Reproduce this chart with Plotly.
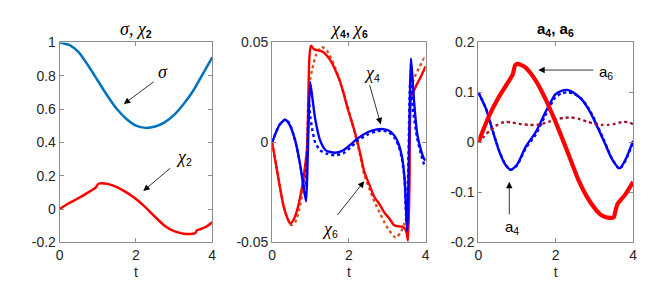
import plotly.graph_objects as go

# ---------------- data ----------------
# Panel 1: sigma and chi_2
sigma_t = [0, 0.25, 0.5, 0.75, 1.0, 1.25, 1.5, 1.75, 2.0, 2.25, 2.5, 2.75, 3.0, 3.25, 3.5, 3.75, 4.0]
sigma_v = [1.0, 0.985, 0.94, 0.86, 0.77, 0.68, 0.60, 0.54, 0.50, 0.487, 0.495, 0.52, 0.565, 0.63, 0.71, 0.81, 0.91]

chi2_t = [0, 0.25, 0.5, 0.75, 0.9, 0.95, 1.0, 1.05, 1.25, 1.5, 1.75, 2.0, 2.25, 2.5, 2.75, 3.0, 3.25,
          3.5, 3.55, 3.6, 3.7, 3.85, 4.0]
chi2_v = [0, 0.036, 0.066, 0.1, 0.122, 0.13, 0.148, 0.154, 0.151, 0.132, 0.1, 0.06, 0.01, -0.047, -0.1,
          -0.133, -0.148, -0.148, -0.146, -0.128, -0.12, -0.105, -0.079]

# Panel 2: chi_4 (solid / dotted) and chi_6 (solid / dotted)
chi4_t = [0, 0.1, 0.2, 0.34, 0.45, 0.6, 0.72, 0.8, 0.885, 0.93, 0.99, 1.05, 1.12, 1.25, 1.4, 1.63, 1.85,
          2.05, 2.23, 2.5, 2.7, 2.9, 3.05, 3.2, 3.3, 3.38, 3.45, 3.52, 3.57, 3.62, 3.7, 3.78, 3.88, 3.96, 4.0]
chi4_v = [0, 0.005, 0.009, 0.0113, 0.009, 0.001, -0.01, -0.02, -0.0296, -0.005, 0.0302, 0.022, 0.012,
          0.001, -0.004, -0.0052, -0.004, -0.001, 0.002, 0.0052, 0.0064, 0.0066, 0.0058, 0.003, -0.001,
          -0.007, -0.018, -0.0445, 0.0, 0.042, 0.02, 0.0042, -0.004, -0.0083, -0.009]

chi4d_t = [0, 0.1, 0.2, 0.34, 0.45, 0.6, 0.72, 0.8, 0.86, 0.9, 0.96, 1.0, 1.05, 1.12, 1.25, 1.4, 1.63,
           1.85, 2.05, 2.23, 2.5, 2.7, 2.9, 3.05, 3.2, 3.3, 3.38, 3.45, 3.5, 3.55, 3.6, 3.68, 3.78, 3.88,
           3.96, 4.0]
chi4d_v = [0, 0.005, 0.009, 0.0115, 0.0095, 0.001, -0.01, -0.018, -0.0225, -0.01, 0.02, 0.012, 0.006,
           0.0, -0.004, -0.0055, -0.0065, -0.0055, -0.0025, 0.001, 0.004, 0.0055, 0.0058, 0.005, 0.002,
           -0.002, -0.008, -0.018, -0.04, -0.01, 0.031, 0.015, 0.002, -0.006, -0.011, -0.012]

chi6_t = [0, 0.1, 0.2, 0.3, 0.4, 0.47, 0.55, 0.65, 0.77, 0.86, 0.91, 0.94, 0.97, 1.01, 1.1, 1.2, 1.3,
          1.42, 1.54, 1.65, 1.76, 1.87, 1.97, 2.08, 2.19, 2.3, 2.4, 2.53, 2.66, 2.8, 2.92, 3.05, 3.18, 3.3,
          3.39, 3.45, 3.5, 3.54, 3.58, 3.62, 3.7, 3.78, 3.88, 3.96, 4.0]
chi6_v = [0, -0.011, -0.022, -0.032, -0.038, -0.0406, -0.039, -0.034, -0.0233, -0.0115, -0.003, 0.02,
          0.042, 0.0483, 0.0465, 0.046, 0.0455, 0.0435, 0.0404, 0.036, 0.031, 0.024, 0.0168, 0.01, 0.0027,
          -0.006, -0.0146, -0.021, -0.0272, -0.031, -0.035, -0.038, -0.0414, -0.042, -0.0422, -0.043,
          -0.045, -0.0492, -0.02, 0.023, 0.026, 0.0294, 0.033, 0.0365, 0.038]

chi6d_t = [0, 0.1, 0.2, 0.3, 0.4, 0.5, 0.6, 0.7, 0.8, 0.88, 0.92, 0.95, 0.98, 1.05, 1.15, 1.29, 1.42,
           1.54, 1.65, 1.76, 1.87, 1.97, 2.08, 2.19, 2.3, 2.4, 2.53, 2.66, 2.8, 2.92, 3.05, 3.22, 3.35,
           3.43, 3.5, 3.55, 3.6, 3.63, 3.72, 3.85, 3.96, 4.0]
chi6d_v = [0, -0.011, -0.022, -0.032, -0.038, -0.0414, -0.04, -0.034, -0.024, -0.014, -0.004, 0.015,
           0.03, 0.037, 0.044, 0.0478, 0.046, 0.042, 0.037, 0.031, 0.024, 0.0175, 0.01, 0.002, -0.007,
           -0.0162, -0.023, -0.0296, -0.035, -0.0398, -0.044, -0.0477, -0.045, -0.0414, -0.037, -0.015,
           0.015, 0.028, 0.033, 0.038, 0.042, 0.041]

# Panel 3: a_4 (solid / dotted) and a_6 (solid / dotted)
a4_t = [0, 0.2, 0.37, 0.54, 0.7, 0.84, 1.0, 1.23, 1.48, 1.74, 1.99, 2.15, 2.29, 2.45, 2.67, 2.85, 3.01,
        3.27, 3.45, 3.65, 3.8, 4.0]
a4_v = [0.1, 0.067, 0.023, -0.018, -0.045, -0.055, -0.045, -0.008, 0.02, 0.061, 0.096, 0.103, 0.105,
        0.1, 0.086, 0.066, 0.042, -0.002, -0.033, -0.052, -0.035, 0.003]
a4d_v = [0.1, 0.067, 0.024, -0.017, -0.044, -0.055, -0.046, -0.011, 0.015, 0.055, 0.09, 0.098, 0.1,
         0.098, 0.087, 0.068, 0.045, 0.0, -0.032, -0.053, -0.037, 0.0]

a6_t = [0, 0.29, 0.54, 0.8, 0.89, 0.95, 1.01, 1.1, 1.23, 1.48, 1.74, 1.99, 2.25, 2.58, 2.8, 3.0, 3.15,
        3.3, 3.45, 3.5, 3.55, 3.6, 3.8, 4.0]
a6_v = [0, 0.055, 0.092, 0.124, 0.136, 0.154, 0.157, 0.155, 0.149, 0.124, 0.086, 0.042, -0.008, -0.074,
        -0.108, -0.131, -0.144, -0.15, -0.151, -0.15, -0.135, -0.123, -0.104, -0.079]

a6d_t = [0, 0.15, 0.29, 0.45, 0.6, 0.71, 0.85, 1.06, 1.31, 1.5, 1.65, 1.85, 2.0, 2.2, 2.4, 2.6, 2.83,
         3.0, 3.18, 3.35, 3.52, 3.73, 3.9, 4.0]
a6d_v = [0, 0.012, 0.023, 0.033, 0.039, 0.041, 0.04, 0.037, 0.035, 0.035, 0.037, 0.042, 0.046, 0.049,
         0.0497, 0.047, 0.041, 0.037, 0.035, 0.035, 0.037, 0.041, 0.04, 0.036]

# tick labels
xtick_vals = [0, 2, 4]
xtick_text = ["0", "2", "4"]
y1_vals = [-0.2, 0, 0.2, 0.4, 0.6, 0.8, 1]
y1_text = ["-0.2", "0", "0.2", "0.4", "0.6", "0.8", "1"]
y2_vals = [-0.05, 0, 0.05]
y2_text = ["-0.05", "0", "0.05"]
y3_vals = [-0.2, -0.1, 0, 0.1, 0.2]
y3_text = ["-0.2", "-0.1", "0", "0.1", "0.2"]

# ---------------- figure ----------------
W, H = 664, 281
SERIF = "Liberation Serif"
SANS = "Liberation Sans, Arial, sans-serif"
AXC = "#8c8c8c"
TXT = "#262626"

fig = go.Figure()


def line(x, y, color, width, dash="solid", axis="", shape="spline"):
    fig.add_trace(go.Scatter(
        x=x, y=y, mode="lines", xaxis="x" + axis, yaxis="y" + axis,
        line=dict(color=color, width=width, dash=dash, shape=shape, smoothing=0.6),
        showlegend=False, hoverinfo="skip"))


# panel 1
line(sigma_t, sigma_v, "#0072BD", 2.5)
line(chi2_t, chi2_v, "#FF0000", 2.5)
# panel 2
line(chi6d_t, chi6d_v, "#D95319", 2.4, "dot", "2")
line(chi6_t, chi6_v, "#FF0000", 2.4, "solid", "2")
line(chi4d_t, chi4d_v, "#0000FF", 2.4, "dot", "2")
line(chi4_t, chi4_v, "#0000FF", 2.4, "solid", "2")
# panel 3
line(a4_t, a4d_v, "#0000FF", 2.4, "dot", "3")
line(a4_t, a4_v, "#0000FF", 2.4, "solid", "3")
line(a6d_t, a6d_v, "#A2142F", 2.4, "dot", "3")
line(a6_t, a6_v, "#FF0000", 4.2, "solid", "3")

xdoms = [[48.3 / W, 202.7 / W], [263.3 / W, 418.7 / W], [472 / W, 628.7 / W]]
ydom = [1 - 240 / H, 1 - 28 / H]
yranges = [[-0.2, 1], [-0.05, 0.05], [-0.2, 0.2]]
yticks = [(y1_vals, y1_text), (y2_vals, y2_text), (y3_vals, y3_text)]

axcommon = dict(showline=True, linecolor=AXC, linewidth=1, mirror="ticks", ticks="inside",
                ticklen=4, tickcolor=AXC, showgrid=False, zeroline=False,
                tickfont=dict(family=SANS, size=14, color=TXT))
for i in range(3):
    sfx = "" if i == 0 else str(i + 1)
    fig.layout["xaxis" + sfx] = dict(
        axcommon, domain=xdoms[i], range=[0, 4], anchor="y" + sfx,
        tickvals=xtick_vals, ticktext=xtick_text,
        title=dict(text="t", font=dict(family=SANS, size=14, color=TXT), standoff=5))
    fig.layout["yaxis" + sfx] = dict(
        axcommon, domain=ydom, range=yranges[i], anchor="x" + sfx,
        tickvals=yticks[i][0], ticktext=yticks[i][1])

GR = f"font-family:{SERIF};font-size:18px"
ann = []
# titles
titles = [
    f"<span style='{GR}'><i>σ</i>, <i>χ</i></span><sub><b>2</b></sub>",
    f"<span style='{GR}'><i>χ</i></span><sub><b>4</b></sub><b>, </b>"
    f"<span style='{GR}'><i>χ</i></span><sub><b>6</b></sub>",
    "<b>a</b><sub><b>4</b></sub><b>, a</b><sub><b>6</b></sub>",
]
for i, t in enumerate(titles):
    ann.append(dict(text=t, xref="paper", yref="paper", x=sum(xdoms[i]) / 2, y=1 - 14 / H,
                    showarrow=False, xanchor="center", yanchor="middle",
                    font=dict(family=SANS, size=15, color="#000000")))


def arr(xa, ya, x, y, ax, ay):
    ann.append(dict(text="", xref=xa, yref=ya, x=x, y=y, ax=ax, ay=ay, axref=xa, ayref=ya,
                    showarrow=True, arrowhead=2, arrowsize=1.6, arrowwidth=0.8,
                    arrowcolor="#000000"))


def lab(xa, ya, x, y, txt):
    ann.append(dict(text=txt, xref=xa, yref=ya, x=x, y=y, showarrow=False,
                    font=dict(family=SANS, size=15, color="#000000"),
                    xanchor="center", yanchor="middle"))


# panel 1 annotations
arr("x", "y", 1.68, 0.63, 2.5, 0.77)
lab("x", "y", 2.72, 0.82, f"<span style='{GR}'><i>σ</i></span>")
arr("x", "y", 2.19, 0.108, 2.94, 0.253)
lab("x", "y", 3.25, 0.31, f"<span style='{GR}'><i>χ</i></span><sub>2</sub>")
# panel 2 annotations
arr("x2", "y2", 2.83, 0.009, 2.53, 0.0294)
lab("x2", "y2", 2.6, 0.0345, f"<span style='{GR}'><i>χ</i></span><sub>4</sub>")
arr("x2", "y2", 2.4, -0.0194, 1.67, -0.0371)
lab("x2", "y2", 1.5, -0.0435, f"<span style='{GR}'><i>χ</i></span><sub>6</sub>")
# panel 3 annotations
arr("x3", "y3", 1.55, 0.1447, 3.01, 0.1447)
lab("x3", "y3", 3.3, 0.14, "a<sub>6</sub>")
arr("x3", "y3", 0.8, -0.079, 0.8, -0.147)
lab("x3", "y3", 0.86, -0.17, "a<sub>4</sub>")

fig.update_layout(width=W, height=H, margin=dict(l=0, r=0, t=0, b=0),
                  paper_bgcolor="white", plot_bgcolor="white", annotations=ann,
                  font=dict(family=SANS, color=TXT))
fig.write_html("out.html")
